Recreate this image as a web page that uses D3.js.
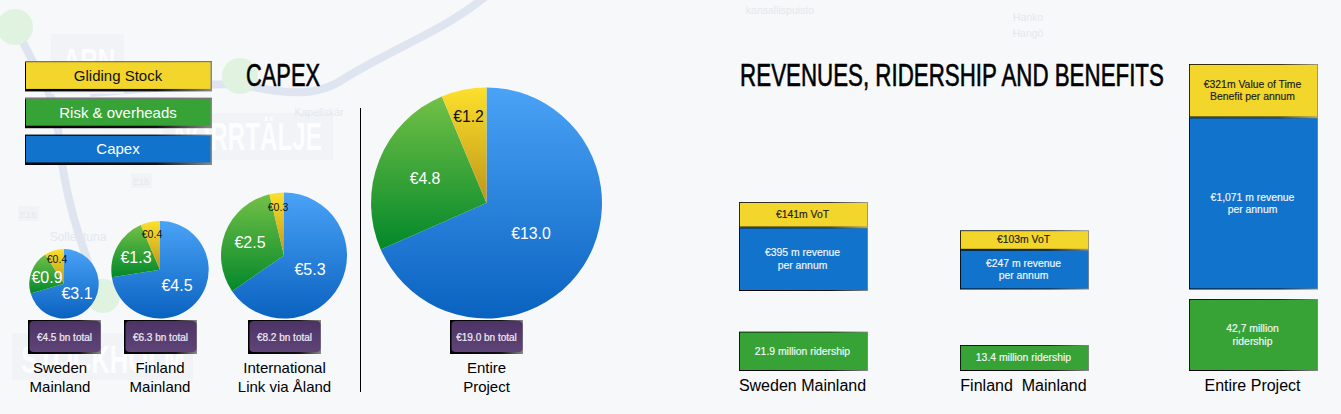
<!DOCTYPE html>
<html>
<head>
<meta charset="utf-8">
<script src="https://cdn.jsdelivr.net/npm/d3@7"></script>
<style>
html, body { margin: 0; padding: 0; background: #f6f8fa; overflow: hidden; }
svg { display: block; }
text { font-family: "Liberation Sans", Arial, sans-serif; text-anchor: middle; }
</style>
</head>
<body>
<svg id="chart" width="1341" height="414"></svg>
<script>
// capex pies, bn euro
var pieNames = ["Sweden", "Finland", "International", "Entire"];
var capex = [3.1, 4.5, 5.3, 13.0];
var risk = [0.9, 1.3, 2.5, 4.8];
var gliding = [0.4, 0.4, 0.3, 1.2];
var totals = [4.5, 6.3, 8.2, 19.0];
var pieLabels = [["Sweden", "Mainland"], ["Finland", "Mainland"], ["International", "Link via Åland"], ["Entire", "Project"]];
var legendNames = ["Gliding Stock", "Risk & overheads", "Capex"];

// revenue blocks, m euro and million riders
var blockNames = ["Sweden Mainland", "Finland  Mainland", "Entire Project"];
var revenue = [395, 247, 1071];
var vot = [141, 103, 321];
var ridership = [21.9, 13.4, 42.7];
var revenueText = ["€395 m revenue", "€247 m revenue", "€1,071 m revenue"];
var votText = [["€141m VoT"], ["€103m VoT"], ["€321m Value of Time", "Benefit per annum"]];
var riderText = [["21.9 million ridership"], ["13.4 million ridership"], ["42,7 million", "ridership"]];

var BLUE = "#1273cd", GREEN = "#37a337", YELLOW = "#f3d62b";

var svg = d3.select("#chart");
var defs = svg.append("defs");

function vGrad(id, top, bottom) {
	var g = defs.append("linearGradient").attr("id", id).attr("x1", 0).attr("y1", 0).attr("x2", 0).attr("y2", 1);
	g.append("stop").attr("offset", "0%").attr("stop-color", top);
	g.append("stop").attr("offset", "100%").attr("stop-color", bottom);
}
vGrad("gBlue", "#4aa3f6", "#0a62c0");
vGrad("gGreen", "#72c046", "#03882a");
vGrad("gYellow", "#fde02b", "#bd9618");
vGrad("gPurple", "#4d3365", "#5f4478");

var edge = defs.append("linearGradient").attr("id", "gEdge").attr("x1", 0).attr("y1", 0).attr("x2", 1).attr("y2", 0);
edge.append("stop").attr("offset", "0%").attr("stop-color", "#000");
edge.append("stop").attr("offset", "70%").attr("stop-color", "#111");
edge.append("stop").attr("offset", "100%").attr("stop-color", "#8a8a8a");

// squeeze a text to a given width, the original uses a condensed face
function fitWidth(sel, x, y, w) {
	var natural = sel.node().getComputedTextLength();
	sel.attr("transform", "translate(" + x + "," + y + ") scale(" + (w / natural) + ",1)");
}

// faint map behind everything
var map = svg.append("g");
var route = "#dfe5f0";
map.append("path").attr("d", "M16 27 C30 60 45 80 56 110 C60 150 62 190 88 262")
	.attr("fill", "none").attr("stroke", route).attr("stroke-width", 8);
map.append("path").attr("d", "M90 93 C150 88 200 84 240 84 C290 96 320 96 345 78 C400 45 445 30 486 -4")
	.attr("fill", "none").attr("stroke", route).attr("stroke-width", 8);
map.selectAll("circle.stop").data([[15, 27, 18], [240, 76, 18], [103, 296, 17]]).enter().append("circle")
	.attr("cx", function(d) { return d[0]; }).attr("cy", function(d) { return d[1]; }).attr("r", function(d) { return d[2]; })
	.attr("fill", "#e0f3e0");
map.selectAll("rect").data([[51, 34, 73, 60], [163, 113, 170, 47], [12, 333, 181, 47], [131, 173, 21, 15], [18, 206, 21, 15]]).enter().append("rect")
	.attr("x", function(d) { return d[0]; }).attr("y", function(d) { return d[1]; })
	.attr("width", function(d) { return d[2]; }).attr("height", function(d) { return d[3]; })
	.attr("fill", "#f1f3f6");
[["ARN", 89, 72, 52, 34], ["NORRTÄLJE", 248, 150, 148, 38], ["STOCKHOLM", 103, 373, 164, 38]].forEach(function(d) {
	var t = map.append("text").attr("font-size", d[4]).attr("font-weight", "bold").attr("fill", "#fcfdfe").text(d[0]);
	fitWidth(t, d[1], d[2], d[3]);
});
map.selectAll("text.place").data([
	["Sollentuna", 78, 241, 12], ["kansallispuisto", 780, 14, 10.5], ["Hanko", 1028, 21, 10.5],
	["Hangö", 1028, 37, 10.5], ["Kapellskär", 319, 116, 10.5], ["E18", 141, 185, 9], ["E18", 28, 218, 9]
]).enter().append("text").attr("class", "place")
	.attr("x", function(d) { return d[1]; }).attr("y", function(d) { return d[2]; })
	.attr("font-size", function(d) { return d[3]; }).attr("fill", "#e4e8ed")
	.text(function(d) { return d[0]; });

// titles
function title(txt, x, w) {
	var t = svg.append("text").attr("font-size", 31).attr("fill", "#000")
		.attr("stroke", "#000").attr("stroke-width", 0.6).text(txt);
	fitWidth(t, x, 86, w);
}
title("CAPEX", 283, 74);
title("REVENUES, RIDERSHIP AND BENEFITS", 952, 424);

// legend
var legendY = d3.scaleBand().domain(legendNames).range([61, 164]).paddingInner(0.2);
var legendFill = d3.scaleOrdinal(legendNames, [YELLOW, GREEN, BLUE]);
var legendInk = d3.scaleOrdinal(legendNames, ["#111", "#fff", "#fff"]);
var legend = svg.append("g").selectAll("g").data(legendNames).enter().append("g");
legend.append("rect").attr("x", 25).attr("width", 187)
	.attr("y", function(d) { return legendY(d); })
	.attr("height", legendY.bandwidth() + 1)
	.attr("fill", "url(#gEdge)");
legend.append("rect").attr("x", 25).attr("width", 187)
	.attr("y", function(d) { return legendY(d); })
	.attr("height", function(d) { return d == "Capex" ? 0 : 1.5; })
	.attr("fill", "#777");
legend.append("rect").attr("x", 26).attr("width", 184.5)
	.attr("y", function(d) { return legendY(d) + 1.2; })
	.attr("height", legendY.bandwidth() - 2.7)
	.attr("fill", legendFill);
legend.append("text").attr("x", 118)
	.attr("y", function(d) { return legendY(d) + legendY.bandwidth() / 2 + 5; })
	.attr("font-size", 15).attr("fill", legendInk)
	.text(function(d) { return d; });

// pies
var pieX = d3.scaleOrdinal(pieNames, [64, 160, 284, 486.5]);
var pieBottom = 318.5;
var radius = d3.scaleLinear().domain([4.5, 6.3, 8.2, 19]).range([34.7, 48.7, 63, 115.5]);
var sliceFill = ["url(#gBlue)", "url(#gGreen)", "url(#gYellow)"];
var pieGen = d3.pie().sort(null);
// hand placed in the original, offsets from the pie centre
var labelOffset = [
	[[13, 9.5], [-17, -7], [-7, -25]],
	[[17, 15.5], [-24, -12.5], [-8, -36]],
	[[26, 14], [-34, -13], [-6, -48]],
	[[44.5, 30], [-61.5, -25], [-18, -87]]
];
var labelSize = [[16, 16, 10.5], [16, 16, 10.5], [16, 16, 10.5], [15.8, 15.8, 15.8]];

pieNames.forEach(function(name, i) {
	var r = radius(totals[i]);
	var g = svg.append("g").attr("transform", "translate(" + pieX(name) + "," + (pieBottom - r) + ")");
	var vals = [capex[i], risk[i], gliding[i]];
	g.selectAll("path").data(pieGen(vals)).enter().append("path")
		.attr("d", d3.arc().innerRadius(0).outerRadius(r))
		.attr("fill", function(d, j) { return sliceFill[j]; });
	g.selectAll("text").data(vals).enter().append("text")
		.attr("x", function(d, j) { return labelOffset[i][j][0]; })
		.attr("y", function(d, j) { return labelOffset[i][j][1] + labelSize[i][j] * 0.36; })
		.attr("font-size", function(d, j) { return labelSize[i][j]; })
		.attr("fill", function(d, j) { return j == 2 ? "#111" : "#fff"; })
		.text(function(d) { return "€" + d.toFixed(1); });
});

// total badges and names under the pies
var badgeX = d3.scaleOrdinal(pieNames, [64.5, 160.5, 284.5, 486.5]);
var labelX = d3.scaleOrdinal(pieNames, [60, 160, 284.5, 486.5]);
pieNames.forEach(function(name, i) {
	var cx = badgeX(name);
	svg.append("rect").attr("x", cx - 36.5).attr("y", 320).attr("width", 73).attr("height", 34).attr("fill", "url(#gEdge)");
	svg.append("rect").attr("x", cx - 35).attr("y", 321).attr("width", 71).attr("height", 31).attr("rx", 4).attr("fill", "url(#gPurple)");
	svg.append("text").attr("x", cx).attr("y", 341).attr("font-size", 10).attr("fill", "#f0ecf4")
		.attr("stroke", "#f0ecf4").attr("stroke-width", 0.2)
		.text("€" + totals[i].toFixed(1) + " bn total");
	pieLabels[i].forEach(function(line, j) {
		svg.append("text").attr("x", labelX(name)).attr("y", 373 + j * 19)
			.attr("font-size", 15).attr("fill", "#000").text(line);
	});
});

// divider between regional pies and the full project
svg.append("line").attr("x1", 360.5).attr("x2", 360.5).attr("y1", 108).attr("y2", 392).attr("stroke", "#000");

// revenue blocks
var blockX = d3.scaleOrdinal(blockNames, [739, 960, 1189]);
var blockW = 129;
var revH = d3.scaleLinear().domain([0, 1071]).range([0, 172]);
var votH = d3.scaleLinear().domain([103, 321]).range([19, 53]);
var riderH = d3.scaleLinear().domain([13.4, 42.7]).range([26, 72]);
var revBottom = [291, 289.5, 289.5];
var riderBottom = 371;

function block(x, y, h, fill, lines, ink, size) {
	svg.append("rect").attr("x", x).attr("y", y).attr("width", blockW).attr("height", h).attr("fill", "url(#gEdge)");
	svg.append("rect").attr("x", x + 0.8).attr("y", y + 0.8).attr("width", blockW - 1.6).attr("height", h - 1.8).attr("fill", fill);
	var cy = y + h / 2 + 3.4 - (lines.length - 1) * 6.2;
	lines.forEach(function(t, j) {
		svg.append("text").attr("x", x + blockW / 2 - 1).attr("y", cy + j * 12.4)
			.attr("font-size", size).attr("fill", ink)
			.attr("stroke", ink).attr("stroke-width", 0.15).text(t);
	});
}

blockNames.forEach(function(name, i) {
	var x = blockX(name);
	var hr = revH(revenue[i]), hv = votH(vot[i]), hg = riderH(ridership[i]);
	var top = revBottom[i] - hr;
	block(x, top, hr, BLUE, [revenueText[i], "per annum"], "#f4f8fd", 10.4);
	block(x, top - hv - 0.5, hv + 0.5, YELLOW, votText[i], "#1a1a1a", 10.4);
	block(x, riderBottom - hg, hg, GREEN, riderText[i], "#f4f8fd", 10.4);
	svg.append("text").attr("x", x + blockW / 2 - 1).attr("y", 391)
		.attr("font-size", 16).attr("fill", "#000").style("white-space", "pre").text(name);
});
</script>
</body>
</html>
